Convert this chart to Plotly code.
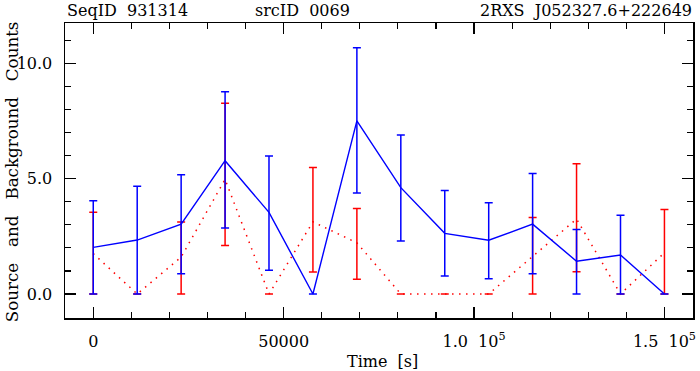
import plotly.graph_objects as go

# Time bins [s]
time_s = [0, 11540, 23080, 34620, 46150, 57690, 69230, 80770, 92310, 103850, 115380, 126920, 138460, 150000]

# Source counts (blue) with read upper / lower error-bar ends
src = [2.02, 2.34, 3.03, 5.78, 3.54, 0.0, 7.51, 4.61, 2.63, 2.33, 3.03, 1.42, 1.69, 0.0]
src_hi = [4.04, 4.67, 5.17, 8.77, 5.98, 0.0, 10.68, 6.89, 4.49, 3.96, 5.22, 2.80, 3.41, 0.0]
src_lo = [0.0, 0.0, 0.88, 2.86, 1.03, 0.0, 4.38, 2.30, 0.78, 0.66, 0.88, 0.0, 0.0, 0.0]

# Background counts (red)
bkg = [1.75, 0.0, 1.60, 4.97, 0.0, 3.13, 2.22, 0.0, 0.0, 0.0, 1.63, 3.25, 0.0, 1.79]
bkg_hi = [3.54, 0.0, 3.12, 8.27, 0.0, 5.48, 3.71, 0.0, 0.0, 0.0, 3.32, 5.65, 0.0, 3.66]
bkg_lo = [0.0, 0.0, 0.0, 2.10, 0.0, 0.95, 0.64, 0.0, 0.0, 0.0, 0.0, 0.97, 0.0, 0.0]

x_tickvals = [0, 50000, 100000, 150000]
x_ticktext = ["0", "50000", "1.0  10<sup>5</sup>", "1.5  10<sup>5</sup>"]
y_tickvals = [0, 5, 10]
y_ticktext = ["0.0", "5.0", "10.0"]

header_left = "SeqID  931314"
header_mid = "srcID  0069"
header_right = "2RXS  J052327.6+222649"
x_title = "Time  [s]"
y_title = "Source   and   Background   Counts"

FONT = "DejaVu Serif"
X_RANGE = [-7420, 157500]
Y_RANGE = [-1.04, 11.75]

fig = go.Figure()
fig.add_trace(go.Scatter(
    x=time_s, y=bkg, mode="lines",
    line=dict(color="#ff0000", width=1.5, dash="1.5px,5.5px"),
    error_y=dict(type="data", symmetric=False,
                 array=[h - v for h, v in zip(bkg_hi, bkg)],
                 arrayminus=[v - l for v, l in zip(bkg, bkg_lo)],
                 color="#ff0000", thickness=1.5, width=4),
    showlegend=False, hoverinfo="skip"))
fig.add_trace(go.Scatter(
    x=time_s, y=src, mode="lines",
    line=dict(color="#0000ff", width=1.4),
    error_y=dict(type="data", symmetric=False,
                 array=[h - v for h, v in zip(src_hi, src)],
                 arrayminus=[v - l for v, l in zip(src, src_lo)],
                 color="#0000ff", thickness=1.5, width=4),
    showlegend=False, hoverinfo="skip"))
# empty trace so the mirrored (top/right) tick axes get drawn
fig.add_trace(go.Scatter(x=[None], y=[None], xaxis="x2", yaxis="y2",
                         showlegend=False, hoverinfo="skip"))

tick_common = dict(ticks="inside", ticklen=11, tickwidth=1.2, tickcolor="black",
                   showgrid=False, zeroline=False)

fig.update_layout(
    xaxis=dict(range=X_RANGE, tickmode="array", tickvals=x_tickvals, ticktext=x_ticktext,
               showline=True, linecolor="black", linewidth=1.5, mirror=True,
               minor=dict(dtick=10000, tick0=0, ticks="inside", ticklen=6, tickwidth=1.2, tickcolor="black"),
               ticklabelstandoff=8, tickfont=dict(family=FONT, size=16, color="black"),
               **tick_common),
    yaxis=dict(range=Y_RANGE, tickmode="array", tickvals=y_tickvals, ticktext=y_ticktext,
               showline=True, linecolor="black", linewidth=1.5, mirror=True,
               minor=dict(dtick=1, tick0=0, ticks="inside", ticklen=6, tickwidth=1.2, tickcolor="black"),
               ticklabelstandoff=8, tickfont=dict(family=FONT, size=16, color="black"),
               **tick_common),
    xaxis2=dict(range=X_RANGE, overlaying="x", side="top", anchor="y2",
                tickmode="array", tickvals=x_tickvals, showticklabels=False, showline=False,
                minor=dict(dtick=10000, tick0=0, ticks="inside", ticklen=6, tickwidth=1.2, tickcolor="black"),
                **tick_common),
    yaxis2=dict(range=Y_RANGE, overlaying="y", side="right", anchor="x2",
                tickmode="array", tickvals=y_tickvals, showticklabels=False, showline=False,
                minor=dict(dtick=1, tick0=0, ticks="inside", ticklen=6, tickwidth=1.2, tickcolor="black"),
                **tick_common),
)

def px2x(px):
    return (px - 65) / 631.0

def py2y(py):
    return (318 - py) / 295.0

ann_font = dict(family=FONT, size=16, color="black")
annotations = [
    dict(text=header_left, x=px2x(65), y=py2y(10), xanchor="left", yanchor="middle"),
    dict(text=header_mid, x=px2x(254), y=py2y(10), xanchor="left", yanchor="middle"),
    dict(text=header_right, x=px2x(697), y=py2y(10), xanchor="right", yanchor="middle"),
    dict(text=x_title, x=px2x(384), y=py2y(361), xanchor="center", yanchor="middle"),
    dict(text=y_title, x=px2x(12), y=py2y(172), xanchor="center", yanchor="middle",
         textangle=-90, font=dict(family=FONT, size=16.7, color="black")),
]
for a in annotations:
    a.setdefault("font", ann_font)
    a.update(xref="paper", yref="paper", showarrow=False)

fig.update_layout(
    width=700, height=371,
    margin=dict(l=65, r=4, t=23, b=53),
    paper_bgcolor="white", plot_bgcolor="white",
    annotations=annotations,
    font=dict(family=FONT, color="black"),
)

fig.write_html("out.html", config={"displayModeBar": False, "staticPlot": True},
               post_script="document.body.style.margin='0';document.body.style.padding='0';document.body.style.overflow='hidden';")
